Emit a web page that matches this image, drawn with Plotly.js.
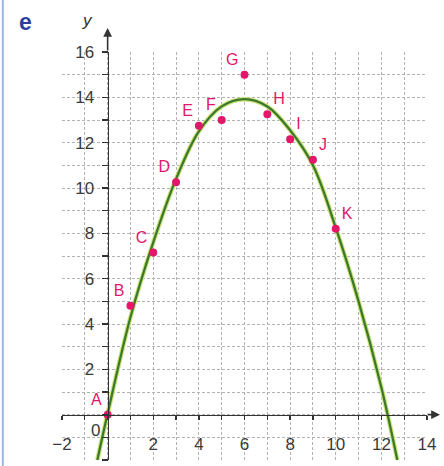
<!DOCTYPE html>
<html>
<head>
<meta charset="utf-8">
<script src="https://cdn.plot.ly/plotly-3.0.1.min.js"></script>
<style>
  html, body { margin: 0; padding: 0; background: #ffffff; }
  #chart { width: 444px; height: 466px; }
</style>
</head>
<body>
<div id="chart"></div>
<script>
// Measured points A–K
const pointNames = ['A', 'B', 'C', 'D', 'E', 'F', 'G', 'H', 'I', 'J', 'K'];
const pointX = [0, 1, 2, 3, 4, 5, 6, 7, 8, 9, 10];
const pointY = [0, 4.8, 7.15, 10.25, 12.75, 13.0, 15.0, 13.25, 12.15, 11.25, 8.2];

// Fitted curve, sampled along its path
const curveX = [-0.45, 0, 1, 2, 3, 4, 5, 6, 7, 8, 9, 10, 11, 12, 12.7];
const curveY = [-2, 0.05, 4.3, 7.6, 10.4, 12.5, 13.6, 13.92, 13.6, 12.55, 11.0, 8.25, 5.0, 1.2, -2];

// Axis ticks (one grid line per unit, labels on even values)
const xTickVals = [-2, -1, 0, 1, 2, 3, 4, 5, 6, 7, 8, 9, 10, 11, 12, 13, 14];
const xTickText = ['\u22122', '', '', '', '2', '', '4', '', '6', '', '8', '', '10', '', '12', '', '14'];
const yTickVals = [-2, -1, 0, 1, 2, 3, 4, 5, 6, 7, 8, 9, 10, 11, 12, 13, 14, 15, 16];
const yTickText = ['\u22122', '', '', '', '2', '', '4', '', '6', '', '8', '', '10', '', '12', '', '14', '', '16'];

const PINK = '#e3166a';
const AXIS = '#333333';
const GRID = '#b3b3b3';
const tickFont = { family: 'Liberation Sans, Arial, sans-serif', size: 17, color: '#3a3a3a' };

// textposition for the point letters: left side up to the peak, right side after
const labelSide = pointX.map(v => (v <= 6 ? 'top left' : 'top right'));

const traces = [
  {
    x: curveX, y: curveY, type: 'scatter', mode: 'lines',
    line: { color: '#cfe37a', width: 4.5, shape: 'spline', smoothing: 1 },
    hoverinfo: 'skip', showlegend: false, cliponaxis: false
  },
  {
    x: curveX, y: curveY, type: 'scatter', mode: 'lines',
    line: { color: '#3b7a2c', width: 2.3, shape: 'spline', smoothing: 1 },
    showlegend: false, cliponaxis: false
  },
  {
    x: pointX, y: pointY, type: 'scatter', mode: 'markers+text',
    text: pointNames, textposition: labelSide,
    textfont: { family: 'Liberation Sans, Arial, sans-serif', size: 16, color: PINK },
    marker: { color: PINK, size: 8 },
    showlegend: false, cliponaxis: false
  }
];

const xPos = 2 / 18;   // paper height of y = 0
const yPos = 2 / 16;   // paper width of x = 0

const layout = {
  width: 444, height: 466,
  margin: { l: 62, r: 17, t: 52, b: 6 },
  paper_bgcolor: '#ffffff', plot_bgcolor: '#ffffff',
  showlegend: false,
  xaxis: {
    range: [-2, 14], anchor: 'free', position: xPos,
    tickmode: 'array', tickvals: xTickVals, ticktext: xTickText,
    showgrid: true, gridcolor: GRID, gridwidth: 1, griddash: '3px,2px',
    zeroline: false, showline: true, linecolor: AXIS, linewidth: 1.6,
    ticks: 'outside', ticklen: 4, tickwidth: 1.3, tickcolor: AXIS,
    ticklabelstandoff: 9, tickfont: tickFont, fixedrange: true
  },
  xaxis2: {
    overlaying: 'x', matches: 'x', range: [-2, 14], anchor: 'free', position: xPos,
    tickmode: 'array', tickvals: xTickVals, showticklabels: false,
    showgrid: false, zeroline: false, showline: false,
    ticks: 'inside', ticklen: 4, tickwidth: 1.3, tickcolor: AXIS
  },
  yaxis: {
    range: [-2, 16], anchor: 'free', position: yPos,
    tickmode: 'array', tickvals: yTickVals, ticktext: yTickText,
    showgrid: true, gridcolor: GRID, gridwidth: 1, griddash: '3px,2px',
    zeroline: false, showline: true, linecolor: AXIS, linewidth: 1.6,
    ticks: 'outside', ticklen: 6, tickwidth: 1.3, tickcolor: AXIS,
    ticklabelstandoff: 4, tickfont: tickFont, fixedrange: true
  },
  shapes: [
    { type: 'line', xref: 'paper', yref: 'paper', x0: -0.162, x1: -0.162, y0: -0.03, y1: 1.14,
      line: { color: '#9bb8e4', width: 2 } }
  ],
  annotations: [
    // axis arrows
    { xref: 'paper', yref: 'paper', x: 1.0356, y: xPos, ax: -14, ay: 0, axref: 'pixel', ayref: 'pixel',
      showarrow: true, arrowhead: 2, arrowsize: 1.1, arrowwidth: 1.6, arrowcolor: AXIS, text: '' },
    { xref: 'paper', yref: 'paper', x: yPos, y: 1.0588, ax: 0, ay: 24, axref: 'pixel', ayref: 'pixel',
      showarrow: true, arrowhead: 2, arrowsize: 1.1, arrowwidth: 1.6, arrowcolor: AXIS, text: '' },
    // origin label
    { xref: 'x', yref: 'y', x: 0, y: 0, xshift: -12, yshift: -16, showarrow: false,
      text: '0', font: tickFont },
    // y axis name
    { xref: 'paper', yref: 'paper', x: 0.0685, y: 1.078, xanchor: 'center', yanchor: 'middle',
      showarrow: false, text: '<i>y</i>',
      font: { family: 'Liberation Sans, Arial, sans-serif', size: 17, color: '#333333' } },
    // part letter
    { xref: 'paper', yref: 'paper', x: -0.101, y: 1.073, xanchor: 'center', yanchor: 'middle',
      showarrow: false, text: '<b>e</b>',
      font: { family: 'Liberation Sans, Arial, sans-serif', size: 23, color: '#2b3f9e' } }
  ]
};

Plotly.newPlot('chart', traces, layout, { displayModeBar: false, staticPlot: true });
</script>
</body>
</html>
